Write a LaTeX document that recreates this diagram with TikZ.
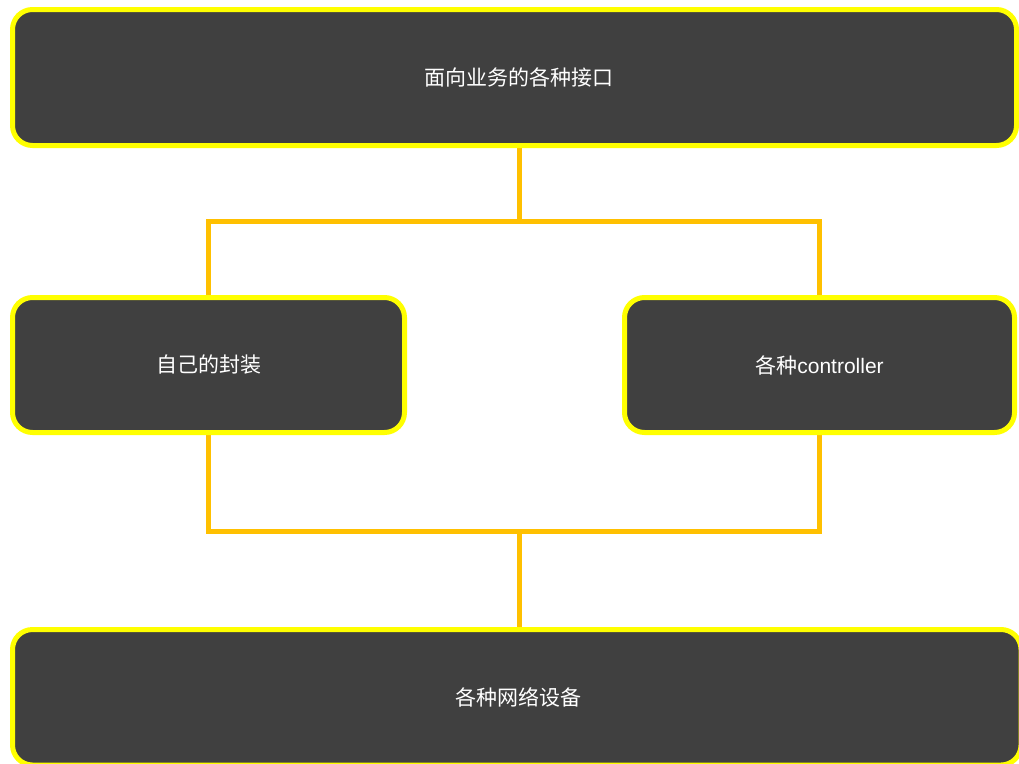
\documentclass[tikz,border=0pt]{standalone}
\usepackage{fontspec}
\setmainfont{Liberation Sans}
\newfontfamily\cjk{Noto Sans CJK SC}
\usetikzlibrary{backgrounds}
\definecolor{boxfill}{HTML}{404040}
\definecolor{boxline}{HTML}{FFFF00}
\definecolor{connline}{HTML}{FFC000}
\begin{document}
\begin{tikzpicture}[x=1pt,y=-1pt,
  box/.style={draw=boxline,fill=boxfill,line width=5pt,rounded corners=20pt,
    rectangle,inner sep=0pt,text=white,font=\fontsize{21}{25}\selectfont},
  conn/.style={draw=connline,line width=5pt}]
\useasboundingbox (0,0) rectangle (1019,763);
\node[box,minimum width=1004pt,minimum height=136pt] (top) at (514.5,77.5) {\hspace*{8pt}\cjk 面向业务的各种接口};
\node[box,minimum width=392pt,minimum height=135pt] (left) at (208.5,365) {\cjk 自己的封装};
\node[box,minimum width=390pt,minimum height=135pt] (right) at (819.5,365) {{\cjk 各种}controller};
\node[box,minimum width=1008.5pt,minimum height=135.5pt] (bottom) at (516.75,697.25) {\hspace*{4pt}\cjk 各种网络设备};
\coordinate (j1) at (519,221);
\coordinate (j2) at (519,531);
\begin{scope}[on background layer]
\draw[conn] (top.south -| j1) -- (j1);
\draw[conn] (left.north) |- (j1) -| (right.north);
\draw[conn] (left.south) |- (j2) -| (right.south);
\draw[conn] (j2) -- (bottom.north -| j2);
\end{scope}
\end{tikzpicture}
\end{document}
